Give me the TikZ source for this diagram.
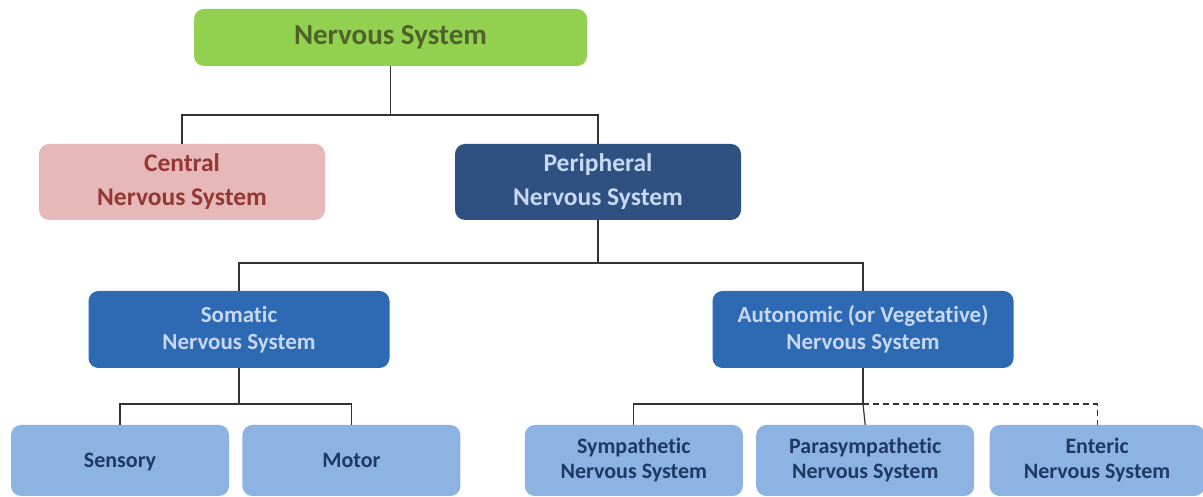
\documentclass[tikz,border=0pt]{standalone}
\usepackage{fontspec}
\setmainfont{Carlito}[Ligatures=NoCommon]
\usetikzlibrary{positioning}
\definecolor{rootfill}{HTML}{92D050}
\definecolor{roottext}{HTML}{4F6228}
\definecolor{cnsfill}{HTML}{E6B9B8}
\definecolor{cnstext}{HTML}{953735}
\definecolor{pnsfill}{HTML}{2F5181}
\definecolor{subfill}{HTML}{2E69B3}
\definecolor{lighttext}{HTML}{C6D9F1}
\definecolor{leaffill}{HTML}{8DB3E2}
\definecolor{leaftext}{HTML}{1F3864}
\tikzset{
	x=1pt, y=1pt,
	node distance=13pt,
	every node/.append style={align=center},
	box/.style={rectangle, rounded corners=10pt, inner sep=0pt},
	rootbox/.style={box, fill=rootfill, text=roottext,
		    minimum width=393pt, minimum height=57pt,
		    font=\bfseries\fontsize{29}{34}\selectfont},
	cnsbox/.style={box, fill=cnsfill, text=cnstext,
		    minimum width=286pt, minimum height=76pt,
		    font=\bfseries\fontsize{25.5}{34}\selectfont},
	pnsbox/.style={cnsbox, fill=pnsfill, text=lighttext},
	subbox/.style={box, fill=subfill, text=lighttext,
		    minimum width=301pt, minimum height=77pt,
		    font=\bfseries\fontsize{23}{27.5}\selectfont},
	leafbox/.style={box, fill=leaffill, text=leaftext,
		    minimum width=218pt, minimum height=71pt,
		    font=\bfseries\fontsize{22}{25}\selectfont},
	oneline/.style={text height=18pt, text depth=4pt},
	link/.style={draw=black!80, line width=1.2pt}
}
\begin{document}
\begin{tikzpicture}
	\useasboundingbox (0,0) rectangle (1203,497);

	\node [rootbox] (root) at (390.5,459.5) {Nervous System};
	\node [cnsbox] (cns) at (182,315) {Central\\Nervous System};
	\node [pnsbox] (pns) at (598,315) {Peripheral\\Nervous System};
	\node [subbox] (somatic) at (239,167.5) {Somatic\\Nervous System};
	\node [subbox] (autonomic) at (863,167.5) {Autonomic (or Vegetative)\\Nervous System};

	\node [leafbox, oneline] (sensory) at (120,36.5) {Sensory};
	\node [leafbox, oneline, right=of sensory] (motor) {Motor};
	\node [leafbox, right=64pt of motor] (sympathetic) {Sympathetic\\Nervous System};
	\node [leafbox, right=of sympathetic] (parasympathetic) {Parasympathetic\\Nervous System};
	\node [leafbox, minimum width=215pt, right=15pt of parasympathetic] (enteric) {Enteric\\Nervous System};

	\coordinate (rootjoin) at (root.south |- 0,382);
	\coordinate (pnsjoin) at (pns.south |- 0,234);
	\coordinate (somjoin) at (somatic.south |- 0,93);
	\coordinate (autjoin) at (autonomic.south |- 0,93);

	\path [link] (root.south) -- (rootjoin) -| (cns.north);
	\path [link] (rootjoin) -| (pns.north);
	\path [link] (pns.south) -- (pnsjoin) -| (somatic.north);
	\path [link] (pnsjoin) -| (autonomic.north);
	\path [link] (somatic.south) -- (somjoin) -| (sensory.north);
	\path [link] (somjoin) -| (motor.north);
	\path [link] (autonomic.south) -- (autjoin) -| (sympathetic.north);
	\path [link] (autjoin) -- (parasympathetic.north);
	\path [link, dash pattern=on 6pt off 4pt] (autjoin) -| (enteric.north);

\end{tikzpicture}
\end{document}
